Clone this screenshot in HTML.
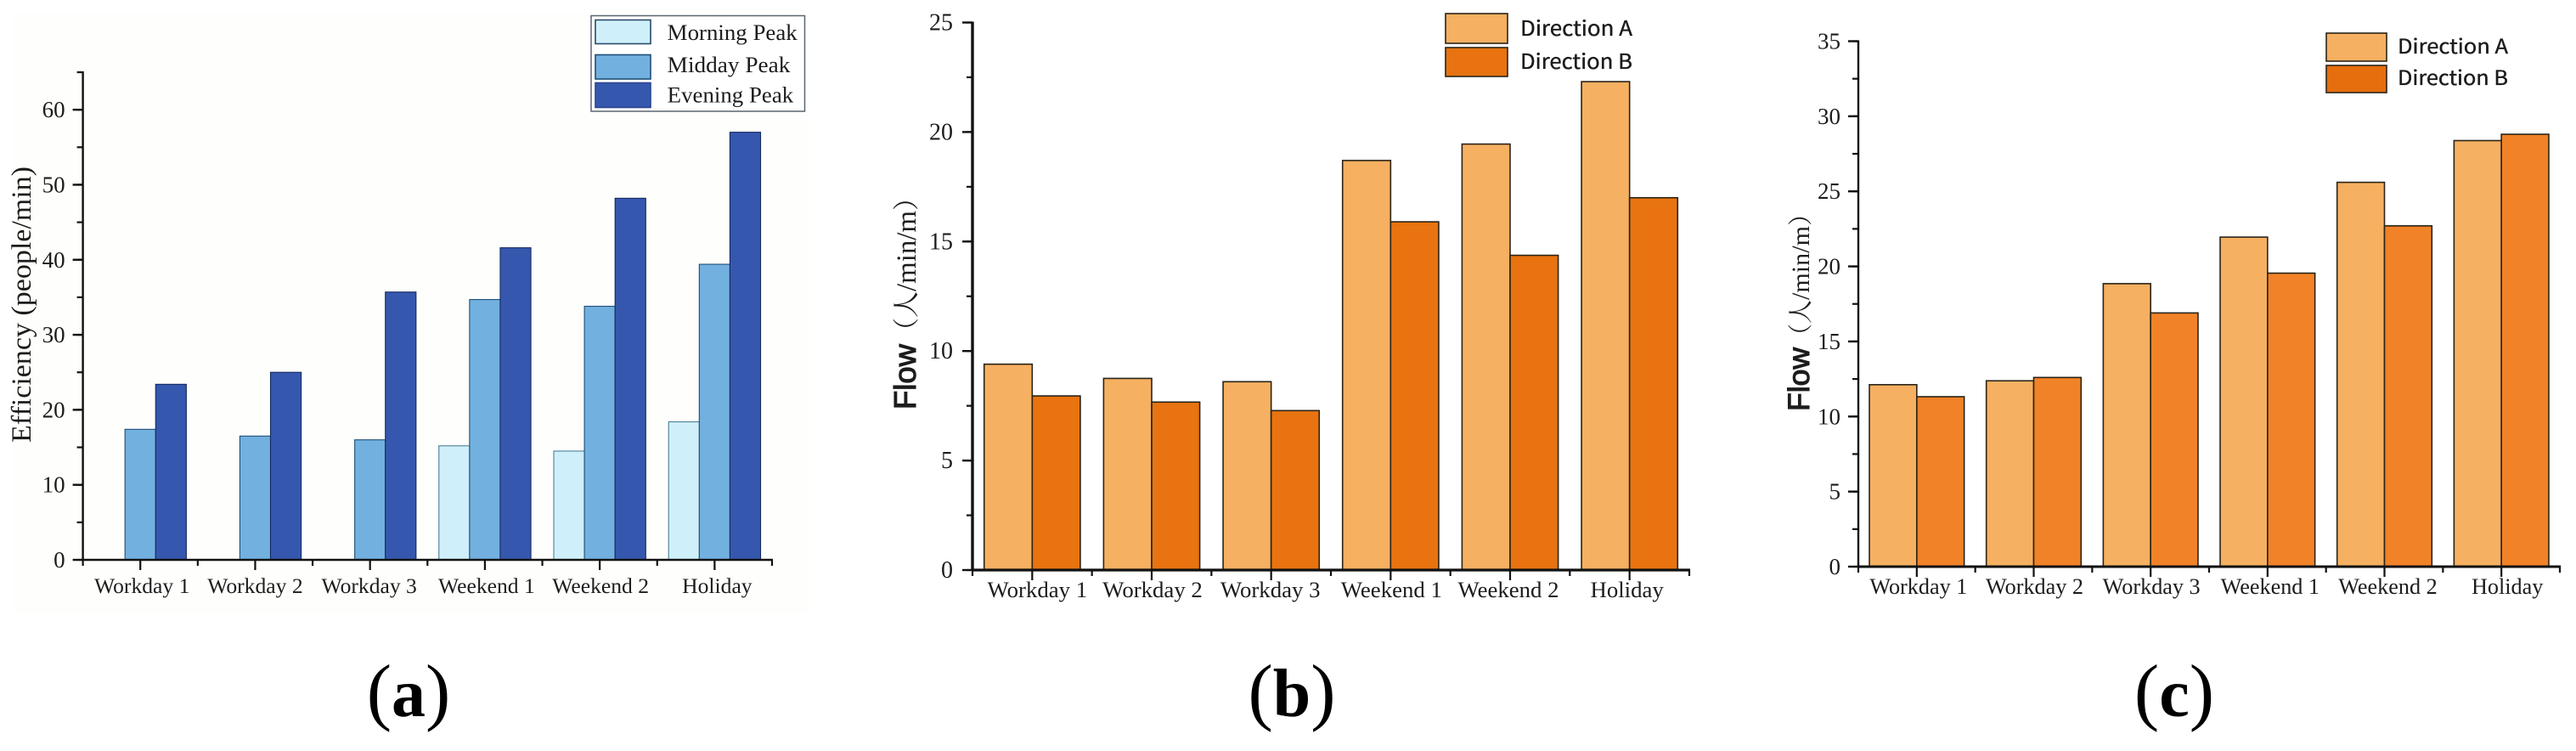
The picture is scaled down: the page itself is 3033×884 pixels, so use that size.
<!DOCTYPE html>
<html lang="en">
<head>
<meta charset="utf-8">
<title>Efficiency and flow by day type</title>
<style>
html,body{margin:0;padding:0;background:#fff;}
svg{display:block;}
text{fill:#1c1c1c;}
text.panel-letter{fill:#000;}
text.legend-strong{stroke:#111;stroke-width:0.35px;}
</style>
</head>
<body>
<svg id="figure" xmlns="http://www.w3.org/2000/svg" width="3033" height="884" viewBox="0 0 3033 884">
  <rect width="3033" height="884" fill="#ffffff"/>
  <rect x="14" y="14" width="938" height="708" fill="#fefefc"/>
</svg>
<script>
const categories = ['Workday 1', 'Workday 2', 'Workday 3', 'Weekend 1', 'Weekend 2', 'Holiday'];
const morningPeak = [0, 0, 0, 15.2, 14.5, 18.4];
const middayPeak = [17.4, 16.5, 16.0, 34.7, 33.8, 39.4];
const eveningPeak = [23.4, 25.0, 35.7, 41.6, 48.2, 57.0];
const flowBDirectionA = [9.4, 8.75, 8.6, 18.7, 19.45, 22.3];
const flowBDirectionB = [7.95, 7.67, 7.28, 15.9, 14.37, 17.0];
const flowCDirectionA = [12.12, 12.38, 18.85, 21.95, 25.6, 28.38];
const flowCDirectionB = [11.32, 12.6, 16.9, 19.55, 22.7, 28.8];
const ticksA = [0, 10, 20, 30, 40, 50, 60];
const ticksB = [0, 5, 10, 15, 20, 25];
const ticksC = [0, 5, 10, 15, 20, 25, 30, 35];
const seriesNamesA = ['Morning Peak', 'Midday Peak', 'Evening Peak'];
const seriesNamesFlow = ['Direction A', 'Direction B'];

const svg = document.getElementById('figure');
const NS = 'http://www.w3.org/2000/svg';
const SERIF = '"Liberation Serif","Noto Serif CJK SC",serif';
const SANS = '"Liberation Sans","Noto Sans CJK SC",sans-serif';
const CJK_SERIF = '"Noto Serif CJK SC",serif';
const LEGEND_SANS = '"Noto Sans CJK SC","Liberation Sans",sans-serif';

function make(tag, name, props, parent) {
  const el = document.createElementNS(NS, tag);
  
  
  for (const k in props) el.setAttribute(k, props[k]);
  (parent || svg).appendChild(el);
  return el;
}
function line(name, x1, y1, x2, y2, w, parent) {
  return make('line', name, {x1: x1, y1: y1, x2: x2, y2: y2, stroke: '#111', 'stroke-width': w}, parent);
}
function label(name, str, x, y, size, anchor, family, parent, len) {
  const t = make('text', name, {x: x, y: y, 'font-size': size, 'text-anchor': anchor, 'font-family': family}, parent);
  t.textContent = str;
  if (len) {
    t.setAttribute('textLength', len);
    t.setAttribute('lengthAdjust', 'spacingAndGlyphs');
  }
  return t;
}

function drawPanel(p) {
  const g = make('g', 'chart-panel-' + p.id, {});
  const yScale = v => p.y0 - (v / p.yMax) * (p.y0 - p.yTop);
  const catWidth = (p.x1 - p.x0) / p.cats.length;
  const xCenter = i => p.x0 + (i + 0.5) * catWidth;

  // bars
  p.series.forEach((s, si) => {
    s.values.forEach((v, i) => {
      if (v <= 0) return;
      const left = xCenter(i) + (si - p.series.length / 2) * p.barWidth;
      make('rect', 'bar-' + p.id + '-' + s.key + '-' + (i + 1), {
        x: left, y: yScale(v), width: p.barWidth, height: p.y0 - yScale(v),
        fill: s.color, stroke: s.edge, 'stroke-width': p.edgeWidth
      }, g);
    });
  });

  // y axis
  line('y-axis-' + p.id, p.x0, p.yTop - 1, p.x0, p.y0 + 1, p.yAxisWidth, g);
  for (let v = 0; v <= p.yMax + 1e-6; v += p.minorStep) {
    line('y-tick-' + p.id, p.x0 - 7, yScale(v), p.x0, yScale(v), 2.2, g);
  }
  p.ticks.forEach(v => {
    line('y-major-tick-' + p.id + '-' + v, p.x0 - 12, yScale(v), p.x0, yScale(v), 2.4, g);
    label('y-tick-label-' + p.id + '-' + v, String(v), p.x0 - p.tickGap, yScale(v) + p.tickDy, p.tickSize, 'end', SERIF, g);
  });

  // x axis
  line('x-axis-' + p.id, p.x0 - 1, p.y0, p.x1 + 1, p.y0, p.xAxisWidth, g);
  p.cats.forEach((c, i) => {
    line('x-boundary-tick-' + p.id + '-' + i, p.x0 + i * catWidth, p.y0, p.x0 + i * catWidth, p.y0 + 7, 2.2, g);
    line('x-major-tick-' + p.id + '-' + i, xCenter(i), p.y0, xCenter(i), p.y0 + 12, 2.2, g);
    label('x-tick-label-' + p.id + '-' + i, c, xCenter(i) + p.labelShift(i), p.labelY, p.labelSize, 'middle', SERIF, g);
  });
  line('x-boundary-tick-' + p.id + '-end', p.x1, p.y0, p.x1, p.y0 + 7, 2.2, g);

  // legend
  const lg = make('g', 'legend-' + p.id, {}, g);
  if (p.legendBox) {
    make('rect', 'legend-frame-' + p.id, {x: p.legendBox[0], y: p.legendBox[1], width: p.legendBox[2], height: p.legendBox[3], fill: '#ffffff', stroke: '#5b6470', 'stroke-width': 1.5}, lg);
  }
  p.legendItems.forEach((it, i) => {
    const e = make('g', 'legend-entry-' + p.id + '-' + (i + 1), {}, lg);
    make('rect', 'legend-swatch-' + p.id + '-' + (i + 1), {x: it.x, y: it.y, width: it.w, height: it.h, fill: it.color, stroke: it.edge, 'stroke-width': 1.6}, e);
    const lt = label('legend-label-' + p.id + '-' + (i + 1), it.text, it.tx, it.ty, it.size, 'start', it.family, e, it.len);
    if (it.family === LEGEND_SANS) lt.setAttribute('class', 'legend-strong');
  });

  // y axis title
  const t = make('text', 'y-axis-title-' + p.id, {
    transform: 'translate(' + p.titleX + ',' + p.titleY + ') rotate(-90)',
    'font-family': SERIF
  }, g);
  p.titleParts.forEach(part => {
    const sp = document.createElementNS(NS, 'tspan');
    sp.setAttribute('font-family', part.family);
    sp.setAttribute('font-size', part.size);
    if (part.stroke) {
      sp.setAttribute('style', 'stroke:#1c1c1c;stroke-width:' + part.stroke + 'px');
    }
    if (part.len) {
      sp.setAttribute('textLength', part.len);
      sp.setAttribute('lengthAdjust', 'spacingAndGlyphs');
    }
    sp.textContent = part.text;
    t.appendChild(sp);
  });

  // panel letter
  const letter = make('text', 'panel-label-' + p.id, {x: p.letterX, y: 843, 'text-anchor': 'middle', 'font-family': SERIF, 'font-size': 88, class: 'panel-letter'}, g);
  letter.appendChild(document.createTextNode('('));
  const b = document.createElementNS(NS, 'tspan');
  b.setAttribute('font-weight', 'bold');
  b.setAttribute('font-size', '80');
  b.textContent = p.id;
  letter.appendChild(b);
  letter.appendChild(document.createTextNode(')'));
}

const orangeA = '#f5b061';
const orangeB = '#e87310';
const orangeC = '#f18227';
const edge = '#2a2418';

drawPanel({
  id: 'a', cats: categories, x0: 97.6, x1: 909, y0: 659, yTop: 85, yMax: 65,
  barWidth: 36.1, edgeWidth: 1.1, yAxisWidth: 2.4, xAxisWidth: 2.6,
  minorStep: 5, ticks: ticksA, tickGap: 21, tickDy: 9, tickSize: 27,
  labelY: 698, labelSize: 25.6,
  labelShift: i => [2, 0, -1, 2, 1, 3][i],
  series: [
    {key: 'morning', values: morningPeak, color: '#cff0fb', edge: '#4b7f99'},
    {key: 'midday', values: middayPeak, color: '#72b0df', edge: '#1f4f77'},
    {key: 'evening', values: eveningPeak, color: '#3558ae', edge: '#15295f'}
  ],
  legendBox: [696, 18.5, 251.5, 112.5],
  legendItems: [
    {text: seriesNamesA[0], x: 701, y: 23.5, w: 65, h: 28, color: '#cff0fb', edge: '#2a4a6a', tx: 785.7, ty: 47, size: 26, family: SERIF, len: 153},
    {text: seriesNamesA[1], x: 701, y: 64.5, w: 65, h: 28.5, color: '#72b0df', edge: '#1f4f77', tx: 785.7, ty: 85, size: 26, family: SERIF, len: 144.7},
    {text: seriesNamesA[2], x: 701, y: 97.5, w: 65, h: 29, color: '#3558ae', edge: '#2a4590', tx: 785.7, ty: 120.7, size: 26, family: SERIF, len: 148.5}
  ],
  titleX: 36, titleY: 521,
  titleParts: [{text: 'Efficiency (people/min)', family: SERIF, size: 33, len: 325}],
  letterX: 481
});

drawPanel({
  id: 'b', cats: categories, x0: 1145, x1: 1989, y0: 671, yTop: 26.5, yMax: 25,
  barWidth: 56.6, edgeWidth: 1.6, yAxisWidth: 3.4, xAxisWidth: 3.2,
  minorStep: 2.5, ticks: ticksB, tickGap: 23, tickDy: 9, tickSize: 28,
  labelY: 703, labelSize: 26.8,
  labelShift: i => [6, 1, -1, 1, -2, -3][i],
  series: [
    {key: 'direction-a', values: flowBDirectionA, color: orangeA, edge: edge},
    {key: 'direction-b', values: flowBDirectionB, color: orangeB, edge: edge}
  ],
  legendItems: [
    {text: seriesNamesFlow[0], x: 1702, y: 16, w: 73, h: 35, color: orangeA, edge: edge, tx: 1790, ty: 42, size: 24.5, family: LEGEND_SANS, len: 132},
    {text: seriesNamesFlow[1], x: 1702, y: 56, w: 73, h: 34, color: orangeB, edge: edge, tx: 1790, ty: 81, size: 24.5, family: LEGEND_SANS, len: 132}
  ],
  titleX: 1078, titleY: 482,
  titleParts: [
    {text: 'Flow', family: SANS, size: 36, stroke: 1.1, len: 77},
    {text: '（人', family: CJK_SERIF, size: 31, len: 62},
    {text: '/min/m', family: SERIF, size: 33, len: 95},
    {text: '）', family: CJK_SERIF, size: 31}
  ],
  letterX: 1521
});

drawPanel({
  id: 'c', cats: categories, x0: 2188, x1: 3014, y0: 667, yTop: 48.5, yMax: 35,
  barWidth: 55.8, edgeWidth: 1.6, yAxisWidth: 2.4, xAxisWidth: 3,
  minorStep: 2.5, ticks: ticksC, tickGap: 21, tickDy: 9, tickSize: 27,
  labelY: 699, labelSize: 26.2,
  labelShift: i => [2, 1, 1, 3, 4, 7][i],
  series: [
    {key: 'direction-a', values: flowCDirectionA, color: orangeA, edge: edge},
    {key: 'direction-b', values: flowCDirectionB, color: orangeC, edge: edge}
  ],
  legendItems: [
    {text: seriesNamesFlow[0], x: 2739, y: 39, w: 71, h: 33, color: orangeA, edge: edge, tx: 2823, ty: 63, size: 24, family: LEGEND_SANS, len: 130},
    {text: seriesNamesFlow[1], x: 2739, y: 77, w: 71, h: 32, color: '#e56e0d', edge: edge, tx: 2823, ty: 100, size: 24, family: LEGEND_SANS, len: 130}
  ],
  titleX: 2130, titleY: 484,
  titleParts: [
    {text: 'Flow', family: SANS, size: 35, stroke: 1.1, len: 75},
    {text: '（人', family: CJK_SERIF, size: 29, len: 56},
    {text: '/min/m', family: SERIF, size: 30, len: 87},
    {text: '）', family: CJK_SERIF, size: 29}
  ],
  letterX: 2560
});
</script>
</body>
</html>
